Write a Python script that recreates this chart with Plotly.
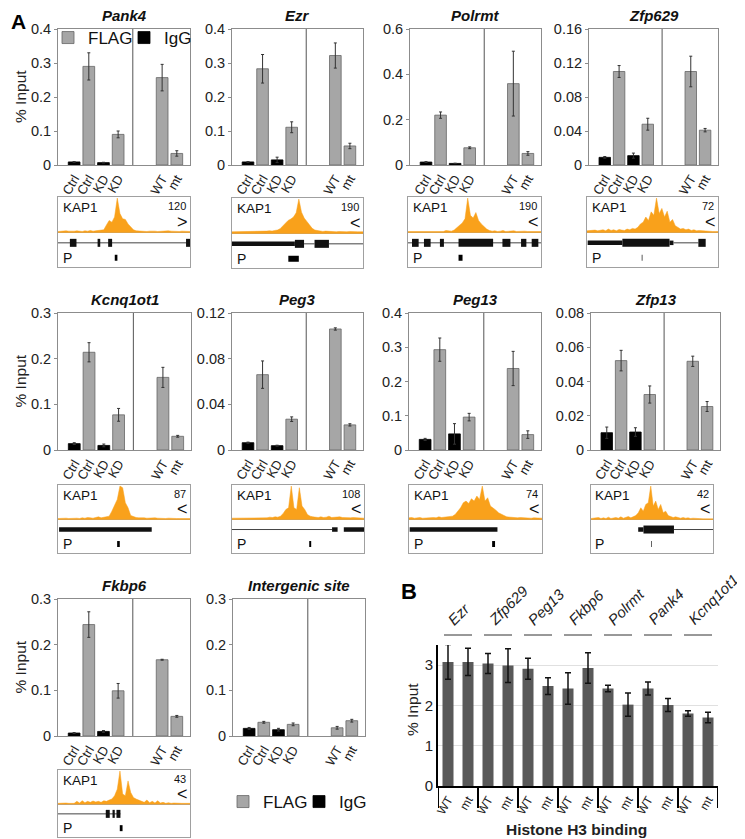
import plotly.graph_objects as go

W, H = 745, 839
OFFSET = 8  # page body margin of the browser
FONT = "Liberation Sans, Arial, sans-serif"

# ---------------- Panel A data (% input) ----------------
BAR_LABELS = ["Ctrl", "Ctrl", "KD", "KD", "WT", "mt"]
# IgG bars: Ctrl, KD ; FLAG bars: Ctrl, KD, WT, mt
pank4_igg = [0.009, 0.007]
pank4_igg_err = [0.001, 0.001]
pank4_flag = [0.290, 0.090, 0.257, 0.034]
pank4_flag_err = [0.040, 0.010, 0.039, 0.008]

ezr_igg = [0.009, 0.015]
ezr_igg_err = [0.001, 0.008]
ezr_flag = [0.283, 0.111, 0.322, 0.056]
ezr_flag_err = [0.042, 0.016, 0.037, 0.008]

polrmt_igg = [0.013, 0.007]
polrmt_igg_err = [0.002, 0.001]
polrmt_flag = [0.220, 0.076, 0.359, 0.051]
polrmt_flag_err = [0.014, 0.004, 0.143, 0.008]

zfp629_igg = [0.009, 0.011]
zfp629_igg_err = [0.001, 0.003]
zfp629_flag = [0.110, 0.048, 0.110, 0.041]
zfp629_flag_err = [0.007, 0.007, 0.018, 0.002]

kcnq1ot1_igg = [0.014, 0.010]
kcnq1ot1_igg_err = [0.002, 0.003]
kcnq1ot1_flag = [0.214, 0.077, 0.159, 0.030]
kcnq1ot1_flag_err = [0.021, 0.014, 0.022, 0.002]

peg3_igg = [0.0064, 0.0038]
peg3_igg_err = [0.0005, 0.0004]
peg3_flag = [0.066, 0.027, 0.106, 0.022]
peg3_flag_err = [0.012, 0.002, 0.001, 0.001]

peg13_igg = [0.031, 0.047]
peg13_igg_err = [0.003, 0.030]
peg13_flag = [0.293, 0.096, 0.238, 0.045]
peg13_flag_err = [0.034, 0.011, 0.050, 0.011]

zfp13_igg = [0.0101, 0.0105]
zfp13_igg_err = [0.0033, 0.0025]
zfp13_flag = [0.0522, 0.0324, 0.0518, 0.0254]
zfp13_flag_err = [0.006, 0.005, 0.003, 0.0029]

fkbp6_igg = [0.0065, 0.010]
fkbp6_igg_err = [0.001, 0.002]
fkbp6_flag = [0.244, 0.099, 0.167, 0.043]
fkbp6_flag_err = [0.028, 0.016, 0.001, 0.002]

inter_igg = [0.0167, 0.0138]
inter_igg_err = [0.002, 0.003]
inter_flag = [0.030, 0.0255, 0.018, 0.0335]
inter_flag_err = [0.002, 0.003, 0.003, 0.003]

# ---------------- KAP1 ChIP-seq tracks (relative signal) ----------------
pank4_sig = [0.03,0.04,0.03,0.05,0.04,0.03,0.04,0.05,0.04,0.03,0.05,0.04,0.06,0.04,0.05,0.06,0.05,0.08,0.22,0.35,
             0.30,0.45,1.0,0.55,0.40,0.38,0.25,0.15,0.08,0.05,0.04,0.05,0.04,0.03,0.04,0.05,0.04,0.03,0.04,0.03,
             0.04,0.05,0.04,0.03,0.04,0.03,0.04,0.03,0.04,0.03]
ezr_sig = [0.05,0.05,0.06,0.05,0.06,0.05,0.06,0.05,0.06,0.05,0.06,0.07,0.06,0.07,0.08,0.07,0.09,0.10,0.14,0.22,
           0.30,0.38,0.42,0.48,0.60,1.0,0.62,0.45,0.35,0.25,0.15,0.10,0.08,0.07,0.06,0.07,0.06,0.05,0.06,0.05,
           0.06,0.05,0.06,0.05,0.06,0.05,0.06,0.05,0.05,0.05]
polrmt_sig = [0.03,0.03,0.04,0.03,0.03,0.04,0.03,0.05,0.03,0.04,0.05,0.03,0.04,0.03,0.06,0.05,0.04,0.07,0.14,0.20,
              0.28,0.40,1.0,0.50,0.42,0.58,0.35,0.25,0.18,0.10,0.06,0.04,0.05,0.03,0.04,0.06,0.03,0.04,0.03,0.05,
              0.03,0.04,0.03,0.04,0.03,0.03,0.04,0.03,0.03,0.03]
zfp629_sig = [0.05,0.06,0.05,0.07,0.05,0.06,0.08,0.05,0.10,0.06,0.08,0.05,0.09,0.07,0.06,0.10,0.08,0.12,0.10,0.15,
              0.25,0.30,0.45,0.35,0.60,0.50,1.0,0.55,0.70,0.45,0.62,0.30,0.38,0.20,0.15,0.10,0.12,0.08,0.10,0.06,
              0.08,0.05,0.06,0.05,0.04,0.05,0.04,0.03,0.03,0.03]
kcnq1ot1_sig = [0.03,0.04,0.03,0.04,0.03,0.04,0.05,0.04,0.03,0.05,0.04,0.06,0.05,0.04,0.06,0.08,0.05,0.06,0.08,0.10,
                0.25,0.45,0.60,1.0,0.95,0.50,0.35,0.12,0.08,0.06,0.05,0.06,0.05,0.04,0.05,0.04,0.05,0.04,0.03,0.04,
                0.03,0.04,0.03,0.04,0.03,0.03,0.03,0.03,0.03,0.03]
peg3_sig = [0.04,0.04,0.05,0.04,0.05,0.04,0.05,0.05,0.04,0.05,0.06,0.05,0.06,0.05,0.07,0.06,0.08,0.07,0.10,0.18,
            0.30,0.35,1.0,0.35,0.30,0.95,0.40,0.30,0.15,0.10,0.08,0.07,0.06,0.08,0.06,0.07,0.10,0.06,0.07,0.06,
            0.08,0.06,0.05,0.06,0.05,0.06,0.05,0.05,0.04,0.04]
peg13_sig = [0.05,0.06,0.04,0.05,0.06,0.04,0.05,0.06,0.05,0.06,0.05,0.08,0.06,0.07,0.06,0.08,0.10,0.15,0.25,0.35,
             0.50,0.55,0.48,0.62,0.55,0.70,0.60,1.0,0.55,0.65,0.40,0.35,0.28,0.20,0.15,0.12,0.08,0.07,0.06,0.07,
             0.05,0.06,0.05,0.06,0.05,0.04,0.05,0.04,0.05,0.04]
zfp13_sig = [0.03,0.04,0.03,0.06,0.03,0.05,0.03,0.07,0.03,0.05,0.06,0.04,0.08,0.04,0.06,0.09,0.05,0.08,0.12,0.20,
             0.35,0.25,0.45,0.50,1.0,0.40,0.55,0.30,0.45,0.20,0.25,0.12,0.10,0.06,0.08,0.05,0.04,0.06,0.04,0.05,
             0.03,0.04,0.03,0.03,0.02,0.02,0.02,0.02,0.02,0.02]
fkbp6_sig = [0.02,0.03,0.02,0.03,0.02,0.03,0.02,0.08,0.03,0.10,0.04,0.08,0.05,0.09,0.06,0.08,0.05,0.10,0.08,0.12,
             0.15,0.25,0.45,1.0,0.30,0.25,0.70,0.35,0.20,0.15,0.12,0.10,0.05,0.12,0.04,0.08,0.03,0.10,0.03,0.05,
             0.02,0.04,0.02,0.03,0.02,0.02,0.02,0.02,0.02,0.02]

TRACK_MAX = ["120", "190", "190", "72", "87", "108", "74", "42", "43"]
TRACK_STRAND = [">", "<", "<", "<", "<", "<", "<", "<", "<"]

# gene models: (start, end, kind) kind: i=intron line, u=thick line, e=exon block
pank4_gene = [(0.0, 1.0, "i"), (0.09, 0.14, "e"), (0.30, 0.32, "e"), (0.38, 0.41, "e"), (0.97, 1.0, "e")]
ezr_gene = [(0.0, 0.48, "u"), (0.48, 0.55, "e"), (0.55, 0.63, "i"), (0.63, 0.74, "e"), (0.74, 1.0, "i")]
polrmt_gene = [(0.0, 1.0, "i"), (0.03, 0.08, "e"), (0.12, 0.17, "e"), (0.24, 0.27, "e"), (0.38, 0.64, "e"),
               (0.71, 0.77, "e"), (0.85, 0.89, "e"), (0.93, 0.98, "e")]
zfp629_gene = [(0.005, 0.27, "u"), (0.27, 0.63, "e"), (0.63, 0.66, "u"), (0.66, 0.85, "i"), (0.85, 0.906, "e")]
kcnq1ot1_gene = [(0.008, 0.71, "u")]
peg3_gene = [(0.0, 0.758, "i"), (0.758, 0.80, "u"), (0.847, 1.0, "u")]
peg13_gene = [(0.005, 0.665, "u")]
zfp13_gene = [(0.387, 0.43, "u"), (0.43, 0.68, "e"), (0.68, 1.0, "i")]
fkbp6_gene = [(0.0, 0.473, "i"), (0.362, 0.392, "e"), (0.413, 0.43, "e"), (0.443, 0.473, "e")]
# probe (qPCR amplicon) positions
PROBES = [(0.43, 0.45), (0.43, 0.51), (0.38, 0.41), (0.418, 0.423), (0.448, 0.468),
          (0.585, 0.60), (0.625, 0.647), (0.494, 0.499), (0.468, 0.489)]

# ---------------- Panel B data (histone H3) ----------------
B_GENES = ["Ezr", "Zfp629", "Peg13", "Fkbp6", "Polrmt", "Pank4", "Kcnq1ot1"]
B_WT = [3.08, 3.04, 2.91, 2.42, 2.42, 2.42, 1.80]
B_WT_ERR = [0.43, 0.25, 0.26, 0.39, 0.08, 0.16, 0.07]
B_MT = [3.08, 2.99, 2.48, 2.93, 2.02, 2.01, 1.70]
B_MT_ERR = [0.34, 0.42, 0.21, 0.38, 0.29, 0.16, 0.13]
B_LABELS = ["WT", "mt"]

# ---------------- layout geometry (pixels) ----------------
SLOT = [1.1, 2.1, 3.1, 4.1, 7.1, 8.1]
IGG_IDX = [0, 2]
FLAG_IDX = [1, 3, 4, 5]
DIVIDER = 5.1
XMAX = 9.0

PANELS = [
    ("Pank4", pank4_igg, pank4_igg_err, pank4_flag, pank4_flag_err, 0.4, 0.1, (58, 190, 29, 165), 16),
    ("Ezr", ezr_igg, ezr_igg_err, ezr_flag, ezr_flag_err, 0.4, 0.1, (232, 363, 29, 165), 16),
    ("Polrmt", polrmt_igg, polrmt_igg_err, polrmt_flag, polrmt_flag_err, 0.6, 0.2, (410, 541, 29, 165), 16),
    ("Zfp629", zfp629_igg, zfp629_igg_err, zfp629_flag, zfp629_flag_err, 0.16, 0.04, (589, 718, 29, 165), 16),
    ("Kcnq1ot1", kcnq1ot1_igg, kcnq1ot1_igg_err, kcnq1ot1_flag, kcnq1ot1_flag_err, 0.3, 0.1, (58, 191, 313, 450), 299),
    ("Peg3", peg3_igg, peg3_igg_err, peg3_flag, peg3_flag_err, 0.12, 0.04, (232, 363, 313, 450), 299),
    ("Peg13", peg13_igg, peg13_igg_err, peg13_flag, peg13_flag_err, 0.4, 0.1, (409, 541, 313, 450), 299),
    ("Zfp13", zfp13_igg, zfp13_igg_err, zfp13_flag, zfp13_flag_err, 0.08, 0.02, (591, 720, 313, 450), 299),
    ("Fkbp6", fkbp6_igg, fkbp6_igg_err, fkbp6_flag, fkbp6_flag_err, 0.3, 0.1, (58, 190, 599, 736), 585),
    ("Intergenic site", inter_igg, inter_igg_err, inter_flag, inter_flag_err, 0.3, 0.1, (233, 365, 599, 736), 585),
]
TRACKS = [
    (pank4_sig, pank4_gene, (58, 190, 197, 267)),
    (ezr_sig, ezr_gene, (232, 363, 198, 268)),
    (polrmt_sig, polrmt_gene, (408, 541, 197, 267)),
    (zfp629_sig, zfp629_gene, (587, 718, 197, 267)),
    (kcnq1ot1_sig, kcnq1ot1_gene, (58, 190, 485, 553)),
    (peg3_sig, peg3_gene, (232, 364, 485, 553)),
    (peg13_sig, peg13_gene, (409, 542, 485, 553)),
    (zfp13_sig, zfp13_gene, (591, 713, 485, 553)),
    (fkbp6_sig, fkbp6_gene, (58, 190, 770, 837)),
]
B_BOX = (438, 718, 645, 786)

GRAY = "#A6A6A6"
FRAME = "#8c8c8c"
ORANGE = "#F9A11B"


def px_x(p):
    return (p - OFFSET) / W


def px_y(p):
    return 1 - (p - OFFSET) / H


fig = go.Figure()
lay = dict(template="none", width=W, height=H, margin=dict(l=0, r=0, t=0, b=0, autoexpand=False),
           paper_bgcolor="white", plot_bgcolor="white", font=dict(family=FONT, size=12, color="#222"),
           barmode="overlay")
annotations = []
shapes = []
count = [0]


def new_axes(box):
    count[0] += 1
    k = count[0]
    x0, x1, y0, y1 = box
    xk = "xaxis" if k == 1 else f"xaxis{k}"
    yk = "yaxis" if k == 1 else f"yaxis{k}"
    xr = "x" if k == 1 else f"x{k}"
    yr = "y" if k == 1 else f"y{k}"
    lay[xk] = dict(domain=[px_x(x0), px_x(x1)], anchor=yr, fixedrange=True, automargin=False)
    lay[yk] = dict(domain=[px_y(y1), px_y(y0)], anchor=xr, fixedrange=True, automargin=False)
    return xk, yk, xr, yr


# ---------- Panel A bar charts ----------
for pi, (title, igg, igg_e, flag, flag_e, ymax, dt, box, ty) in enumerate(PANELS):
    xk, yk, xr, yr = new_axes(box)
    lay[xk].update(range=[0, XMAX], tickmode="array", tickvals=SLOT, ticktext=BAR_LABELS,
                   tickangle=-60, tickfont=dict(size=13, color="#222"), showline=True, mirror=True,
                   linecolor=FRAME, linewidth=1, showgrid=False, zeroline=False, ticks="")
    lay[yk].update(range=[0, ymax], tick0=0, dtick=dt, tickfont=dict(size=14.5, color="#222"),
                   showline=True, mirror=True, linecolor=FRAME, linewidth=1, ticks="outside",
                   ticklen=3, tickcolor=FRAME, showgrid=False, zeroline=False)
    leg = None
    if pi == 0:
        leg = "legend"
    elif pi == 9:
        leg = "legend2"
    fig.add_trace(go.Bar(
        x=[SLOT[i] for i in FLAG_IDX], y=flag, width=0.8, name="FLAG",
        marker=dict(color=GRAY, line=dict(color="#666666", width=0.8)),
        error_y=dict(type="data", array=flag_e, color="#333333", thickness=1, width=1.5),
        xaxis=xr, yaxis=yr, showlegend=leg is not None, legend=leg or "legend", hoverinfo="y"))
    fig.add_trace(go.Bar(
        x=[SLOT[i] for i in IGG_IDX], y=igg, width=0.8, name="IgG",
        marker=dict(color="#000000", line=dict(color="#000000", width=0.8)),
        error_y=dict(type="data", array=igg_e, color="#333333", thickness=1, width=1.5),
        xaxis=xr, yaxis=yr, showlegend=leg is not None, legend=leg or "legend", hoverinfo="y"))
    shapes.append(dict(type="line", xref=xr, x0=DIVIDER, x1=DIVIDER, yref=f"{yr} domain", y0=0, y1=1,
                       line=dict(color="#555555", width=1)))
    cx = (box[0] + box[1]) / 2
    annotations.append(dict(text=f"<b><i>{title}</i></b>", x=px_x(cx), y=px_y(ty), xref="paper",
                            yref="paper", showarrow=False, font=dict(size=15, color="#111"),
                            xanchor="center", yanchor="middle"))
    if box[0] < 100:
        annotations.append(dict(text="% Input", x=px_x(20), y=px_y((box[2] + box[3]) / 2), xref="paper",
                                yref="paper", showarrow=False, textangle=-90, font=dict(size=15.5, color="#222"),
                                xanchor="center", yanchor="middle"))

# ---------- KAP1 tracks ----------
GENE_Y = -0.29
PROBE_Y = -0.71
KIND_W = {"i": 1, "u": 4.5, "e": 8}
for ti, (sig, gene, box) in enumerate(TRACKS):
    xk, yk, xr, yr = new_axes(box)
    lay[xk].update(range=[0, 1], showline=True, mirror=True, linecolor="#a0a0a0", linewidth=1,
                   showticklabels=False, ticks="", showgrid=False, zeroline=False)
    lay[yk].update(range=[-0.97, 1.0], showline=True, mirror=True, linecolor="#a0a0a0", linewidth=1,
                   showticklabels=False, ticks="", showgrid=False, zeroline=True,
                   zerolinecolor="#c9a26b", zerolinewidth=1)
    n = len(sig)
    xs = [i / (n - 1) for i in range(n)]
    fig.add_trace(go.Scatter(x=xs, y=[v * 0.97 for v in sig], mode="lines", fill="tozeroy",
                             fillcolor=ORANGE, line=dict(color=ORANGE, width=0.5),
                             xaxis=xr, yaxis=yr, showlegend=False, hoverinfo="skip"))
    for (g0, g1, kind) in gene:
        fig.add_trace(go.Scatter(x=[g0, g1], y=[GENE_Y, GENE_Y], mode="lines",
                                 line=dict(color="#111111" if kind != "i" else "#444444", width=KIND_W[kind]),
                                 xaxis=xr, yaxis=yr, showlegend=False, hoverinfo="skip"))
    p0, p1 = PROBES[ti]
    fig.add_trace(go.Scatter(x=[p0, p1], y=[PROBE_Y, PROBE_Y], mode="lines",
                             line=dict(color="#000000", width=6),
                             xaxis=xr, yaxis=yr, showlegend=False, hoverinfo="skip"))
    annotations += [
        dict(text="KAP1", x=0.02, y=0.98, xref=f"{xr} domain", yref=f"{yr} domain", showarrow=False,
             xanchor="left", yanchor="top", font=dict(size=13.5, color="#111")),
        dict(text=TRACK_MAX[ti], x=0.985, y=0.99, xref=f"{xr} domain", yref=f"{yr} domain", showarrow=False,
             xanchor="right", yanchor="top", font=dict(size=11, color="#111")),
        dict(text=TRACK_STRAND[ti], x=0.94, y=0.64, xref=f"{xr} domain", yref=f"{yr} domain", showarrow=False,
             xanchor="center", yanchor="middle", font=dict(size=18, color="#111")),
        dict(text="P", x=0.02, y=0.13, xref=f"{xr} domain", yref=f"{yr} domain", showarrow=False,
             xanchor="left", yanchor="middle", font=dict(size=14, color="#111")),
    ]

# ---------- Panel B ----------
xk, yk, xr, yr = new_axes(B_BOX)
bx, by, be, bt = [], [], [], []
for g in range(len(B_GENES)):
    bx += [2 * g, 2 * g + 1]
    by += [B_WT[g], B_MT[g]]
    be += [B_WT_ERR[g], B_MT_ERR[g]]
    bt += B_LABELS
lay[xk].update(range=[-0.5, 2 * len(B_GENES) - 0.5], tickmode="array", tickvals=bx, ticktext=bt,
               tickangle=-60, tickfont=dict(size=12, color="#222"), showline=True, linecolor="#000",
               linewidth=2, showgrid=False, zeroline=False, ticks="")
lay[yk].update(range=[0, 3.5], tickmode="array", tickvals=[0, 1, 2, 3], tickfont=dict(size=15, color="#222"),
               showline=True, linecolor="#000", linewidth=2, showgrid=True, gridcolor="#e0e0e0",
               zeroline=False, ticks="")
fig.add_trace(go.Bar(x=bx, y=by, width=0.55, marker=dict(color="#595959", line=dict(width=0)),
                     error_y=dict(type="data", array=be, color="#111", thickness=1.5, width=3),
                     xaxis=xr, yaxis=yr, showlegend=False, hoverinfo="y"))
for g in range(len(B_GENES) + 1):
    shapes.append(dict(type="line", xref=xr, x0=2 * g - 0.5, x1=2 * g - 0.5, yref="paper",
                       y0=px_y(786), y1=px_y(808), line=dict(color="#000", width=2)))
for g, name in enumerate(B_GENES):
    shapes.append(dict(type="line", xref=xr, x0=2 * g - 0.2, x1=2 * g + 1.2, yref="paper",
                       y0=px_y(635), y1=px_y(635), line=dict(color="#333", width=1)))
    annotations.append(dict(text=f"<i>{name}</i>", x=2 * g - 0.3, y=px_y(631), xref=xr, yref="paper",
                            showarrow=False, textangle=-45, xanchor="left", yanchor="bottom",
                            font=dict(size=15, color="#222")))
annotations += [
    dict(text="% Input", x=px_x(412), y=px_y(710), xref="paper", yref="paper", showarrow=False,
         textangle=-90, xanchor="center", yanchor="middle", font=dict(size=15.5, color="#222")),
    dict(text="<b>Histone H3 binding</b>", x=px_x(576), y=px_y(829), xref="paper", yref="paper",
         showarrow=False, xanchor="center", yanchor="middle", font=dict(size=15.5, color="#222")),
    dict(text="<b>A</b>", x=px_x(18), y=px_y(22), xref="paper", yref="paper", showarrow=False,
         xanchor="center", yanchor="middle", font=dict(size=21, color="#000")),
    dict(text="<b>B</b>", x=px_x(409), y=px_y(591), xref="paper", yref="paper", showarrow=False,
         xanchor="center", yanchor="middle", font=dict(size=22, color="#000")),
]

lay["annotations"] = annotations
lay["shapes"] = shapes
lay["legend"] = dict(orientation="h", x=px_x(48), y=px_y(38), xanchor="left", yanchor="middle",
                     font=dict(size=17, color="#111"), bgcolor="rgba(0,0,0,0)", itemwidth=30,
                     entrywidth=31, entrywidthmode="pixels", traceorder="normal")
lay["legend2"] = dict(orientation="h", x=px_x(223), y=px_y(802), xanchor="left", yanchor="middle",
                      font=dict(size=17, color="#111"), bgcolor="rgba(0,0,0,0)", itemwidth=30,
                      entrywidth=31, entrywidthmode="pixels", traceorder="normal")
fig.update_layout(**lay)
fig.write_html("out.html")
